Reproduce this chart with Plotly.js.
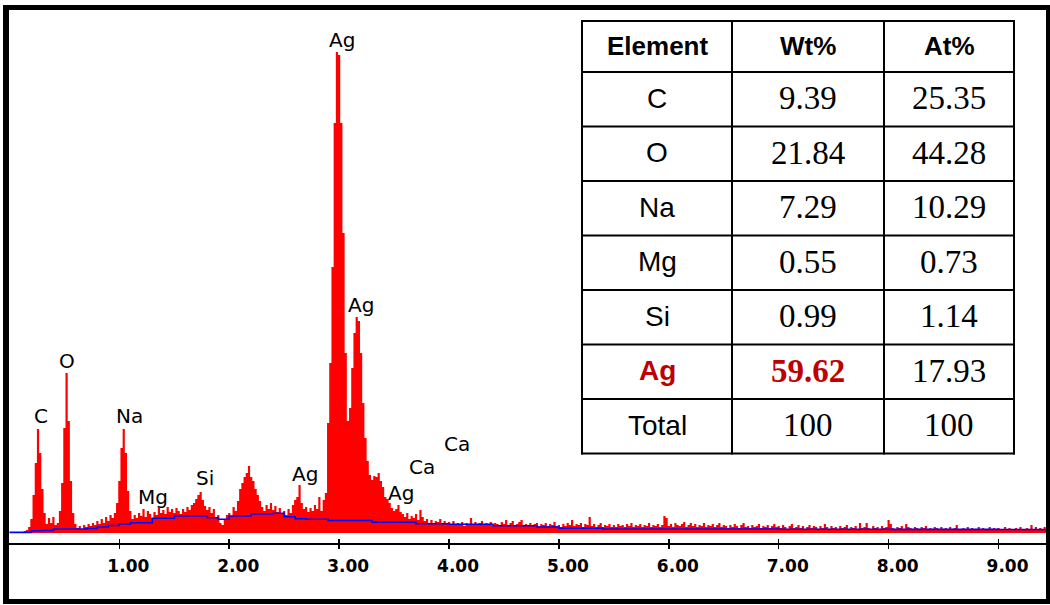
<!DOCTYPE html>
<html>
<head>
<meta charset="utf-8">
<script src="https://cdn.plot.ly/plotly-3.0.1.min.js"></script>
<style>
  html, body { margin: 0; padding: 0; background: #ffffff; }
  #chart { width: 1050px; height: 605px; }
</style>
</head>
<body>
<div id="chart"></div>
<script>
// ---------------- DATA ----------------
// EDS spectrum: counts per 0.02 keV channel (arbitrary units)
const channelStart = 0.0;   // keV
const channelWidth = 0.02;  // keV
const spectrumCounts = [
  0,0,0,0,0,0,1,2,3,6,14,38,70,104,80,44,20,9,15,10,16,8,10,22,50,          // 0.00-0.48
  105,160,112,52,20,9,5,7,4,8,6,9,7,10,8,12,9,14,10,16,12,18,15,20,30,     // 0.50-0.98
  52,85,104,80,42,22,14,18,15,20,17,24,16,22,19,15,21,18,25,20,23,19,26,21,24, // 1.00-1.48
  20,25,22,19,24,21,26,23,28,30,34,38,41,33,27,23,26,20,24,15,18,10,8,14,18,   // 1.50-1.98
  20,17,26,22,32,44,50,56,60,67,56,52,44,38,32,26,22,28,24,30,23,27,21,25,20,  // 2.00-2.48
  22,18,24,20,28,33,36,48,30,24,26,21,25,22,28,24,36,22,33,40,110,170,266,410,481, // 2.50-2.98
  478,410,300,180,112,125,165,200,216,212,180,130,95,72,58,53,57,56,60,52,46,36,34,30,25, // 3.00-3.48
  22,24,28,21,19,16,20,14,17,15,19,13,23,16,12,14,10,13,9,12,11,14,10,12,9,    // 3.50-3.98
  11,9,12,8,10,9,11,7,10,9,15,9,11,8,10,12,8,10,9,11,7,10,9,8,11,             // 4.00-4.48
  9,13,8,10,12,8,9,11,13,8,9,7,10,8,9,10,7,9,8,10,7,9,8,11,7,                 // 4.50-4.98
  8,6,9,7,10,8,13,7,9,8,10,6,9,8,16,7,9,6,8,10,6,8,7,9,6,                     // 5.00-5.48
  8,6,9,7,8,6,9,7,10,6,8,7,9,6,8,7,10,6,8,7,9,6,8,17,15,                      // 5.50-5.98
  7,9,6,10,8,7,9,11,6,8,10,7,9,6,8,7,10,6,8,7,9,6,8,10,6,                     // 6.00-6.48
  8,7,5,8,6,9,7,5,8,10,6,7,5,8,6,7,9,5,7,6,8,5,7,9,6,                         // 6.50-6.98
  7,5,8,6,4,7,9,5,6,8,5,7,4,6,8,5,7,6,4,7,5,9,6,4,7,                          // 7.00-7.48
  5,6,4,7,5,6,8,4,6,5,7,4,10,5,6,10,5,4,7,5,6,4,7,5,6,                        // 7.50-7.98
  13,9,5,4,6,5,7,4,9,6,5,4,6,5,3,6,5,7,4,5,3,6,5,4,6,                         // 8.00-8.48
  4,5,3,6,4,5,8,4,3,5,4,6,3,5,4,3,6,4,5,3,4,6,3,5,4,                          // 8.50-8.98
  5,3,4,6,3,5,4,3,5,4,6,3,4,5,3,8,4,6,3,5,4,6,4                               // 9.00-9.44
];

// Fitted background (blue step line)
const backgroundEnergy = [0,0.1,0.2,0.3,0.4,0.5,0.6,0.7,0.8,0.9,1.0,1.1,1.2,1.3,1.4,1.5,1.6,1.7,1.8,1.9,2.0,2.1,2.2,2.3,2.4,2.5,2.6,2.7,2.8,2.9,3.0,3.1,3.2,3.3,3.4,3.5,3.6,3.7,3.8,3.9,4.0,4.2,4.4,4.6,4.8,5.0,5.2,5.4,6.0,7.0,8.0,9.0,9.45];
const backgroundCounts = [0.6,0.6,2.3,2.5,4,4,4,4.5,6,7.5,9,10.3,10.3,14.7,14.7,17,17,17,15.3,13.7,17,17,19,19,19.7,16.3,14.3,13.7,13.7,12.5,12.5,12.5,12.5,10.7,10.7,10.7,10.7,9.3,9.3,9.3,8.7,8.7,7.3,7.3,6,4.7,4.7,4,4,3.8,3.6,3.5,3.5];

// Peak labels
const peakLabels      = ['C', 'O', 'Na', 'Mg', 'Si', 'Ag', 'Ag', 'Ag', 'Ag', 'Ca', 'Ca'];
const peakLabelEnergy = [0.288, 0.525, 1.089, 1.307, 1.781, 2.69, 3.027, 3.20, 3.565, 3.755, 4.074];
const peakLabelHeight = [117, 172, 117, 36, 55, 59, 493, 228, 40, 66, 89];

// Axis ticks
const tickValues = [1, 2, 3, 4, 5, 6, 7, 8, 9];
const tickLabels = ['1.00', '2.00', '3.00', '4.00', '5.00', '6.00', '7.00', '8.00', '9.00'];

// Composition table
const tableHeader = ['Element', 'Wt%', 'At%'];
const elements    = ['C', 'O', 'Na', 'Mg', 'Si', 'Ag', 'Total'];
const weightPct   = ['9.39', '21.84', '7.29', '0.55', '0.99', '59.62', '100'];
const atomicPct   = ['25.35', '44.28', '10.29', '0.73', '1.14', '17.93', '100'];
const highlightElement = 'Ag';

// ---------------- BUILD ----------------
const energies = spectrumCounts.map((_, i) => +(channelStart + i * channelWidth).toFixed(2));

const HL = '#c00000';
const SANS = 'Liberation Sans, Arial, sans-serif';
const SERIF = 'Liberation Serif, Times New Roman, serif';

// pixel -> paper helpers (plot area: x 9..1046, y 10..543)
const PL = 9, PR = 1046, PT = 10, PB = 543;
const xp = px => (px - PL) / (PR - PL);
const yp = py => (PB - py) / (PB - PT);
const rect = (x0, y0, x1, y1, fill) => ({
  type: 'rect', xref: 'paper', yref: 'paper',
  x0: xp(x0), x1: xp(x1), y0: yp(y0), y1: yp(y1),
  fillcolor: fill, line: { width: 0 }, layer: 'above'
});
const seg = (x0, y0, x1, y1) => ({
  type: 'line', xref: 'paper', yref: 'paper',
  x0: xp(x0), x1: xp(x1), y0: yp(y0), y1: yp(y1),
  line: { color: '#000', width: 2 }, layer: 'above'
});

// table geometry (pixels)
const colEdges = [582, 732, 884, 1014];
const rowEdges = [21, 72];
for (let k = 1; k <= elements.length; k++) rowEdges.push(72 + 54.5 * k);

const tableShapes = [rect(colEdges[0], rowEdges[0], colEdges[3], rowEdges[rowEdges.length - 1], '#fff')];
colEdges.forEach(cx => tableShapes.push(seg(cx, rowEdges[0] - 1, cx, rowEdges[rowEdges.length - 1] + 1)));
rowEdges.forEach(ry => tableShapes.push(seg(colEdges[0] - 1, ry, colEdges[3] + 1, ry)));

const tableAnn = [];
const cellText = (text, col, rowTop, rowBot, family, size, color, shift) => ({
  xref: 'paper', yref: 'paper',
  x: xp((colEdges[col] + colEdges[col + 1]) / 2), y: yp((rowTop + rowBot) / 2),
  text: text, showarrow: false, xanchor: 'center', yanchor: 'middle', yshift: shift,
  font: { family: family, size: size, color: color }
});
tableHeader.forEach((h, c) => tableAnn.push(cellText('<b>' + h + '</b>', c, rowEdges[0], rowEdges[1], SANS, 26, '#000', 1)));
elements.forEach((e, r) => {
  const hl = e === highlightElement;
  const top = rowEdges[r + 1], bot = rowEdges[r + 2];
  tableAnn.push(cellText(hl ? '<b>' + e + '</b>' : e, 0, top, bot, SANS, 28, hl ? HL : '#000', 1));
  tableAnn.push(cellText(hl ? '<b>' + weightPct[r] + '</b>' : weightPct[r], 1, top, bot, SERIF, 33, hl ? HL : '#000', 1));
  tableAnn.push(cellText(atomicPct[r], 2, top, bot, SERIF, 33, '#000', 1));
});

const traces = [
  {
    type: 'scatter', mode: 'lines', x: energies, y: spectrumCounts,
    line: { color: '#ff0000', width: 0, shape: 'hvh' },
    fill: 'tozeroy', fillcolor: '#ff0000',
    xaxis: 'x', yaxis: 'y', hoverinfo: 'x+y'
  },
  {
    type: 'scatter', mode: 'lines', x: backgroundEnergy, y: backgroundCounts,
    line: { color: '#0000ff', width: 1.6, shape: 'hv' },
    xaxis: 'x2', yaxis: 'y', hoverinfo: 'skip'
  }
];

const peakAnn = peakLabels.map((t, i) => ({
  x: peakLabelEnergy[i], y: peakLabelHeight[i], xref: 'x', yref: 'y',
  text: t, showarrow: false,
  font: { family: 'DejaVu Sans, sans-serif', size: 20, color: '#000' },
  xanchor: 'center', yanchor: 'middle'
}));

const layout = {
  width: 1050, height: 605,
  margin: { l: PL, r: 1050 - PR, t: PT, b: 605 - PB },
  paper_bgcolor: '#fff', plot_bgcolor: '#fff',
  showlegend: false,
  xaxis: {
    range: [-0.004, 9.432], showgrid: false, zeroline: false,
    showline: true, linecolor: '#000', linewidth: 1.5,
    ticks: 'outside', ticklen: 4, tickwidth: 1.5, tickcolor: '#000',
    tickmode: 'array', tickvals: tickValues, ticktext: tickLabels,
    tickfont: { family: 'DejaVu Sans, sans-serif', size: 17, color: '#000', weight: 'bold' },
    ticklabelstandoff: 3, ticklabelshift: 9,
    fixedrange: true
  },
  xaxis2: {
    overlaying: 'x', matches: 'x', anchor: 'y', side: 'bottom',
    showgrid: false, zeroline: false, showline: false,
    ticks: 'inside', ticklen: 4, tickwidth: 1.5, tickcolor: '#000',
    tickmode: 'array', tickvals: tickValues, showticklabels: false
  },
  yaxis: { range: [-10, 523], visible: false, fixedrange: true },
  annotations: peakAnn.concat(tableAnn),
  shapes: tableShapes.concat([
    rect(3, 5, 9, 604, '#000'),
    rect(3, 5, 1050, 10, '#000'),
    rect(1046, 5, 1050, 604, '#000'),
    rect(3, 599, 1050, 604, '#000')
  ])
};

Plotly.newPlot('chart', traces, layout, { displayModeBar: false, staticPlot: true });
</script>
</body>
</html>
